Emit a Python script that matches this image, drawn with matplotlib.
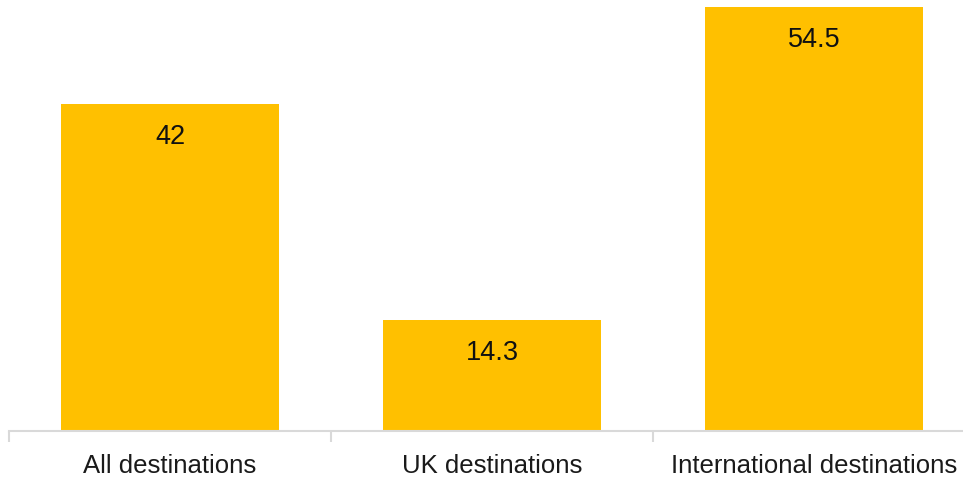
import matplotlib.pyplot as plt
import numpy as np

plt.rcParams['font.family'] = ['Liberation Sans', 'DejaVu Sans']

categories = ['All destinations', 'UK destinations', 'International destinations']
values = [42, 14.3, 54.5]

bar_color = '#FFC000'
axis_color = '#d9d9d9'

fig = plt.figure(figsize=(9.63, 4.78), dpi=100)
# axis runs from the left edge past the right side of the figure
ax = fig.add_axes([9 / 963, 47 / 478, 966 / 963, 431 / 478])

x = np.arange(len(categories))
bars = ax.bar(x, values, width=0.677, color=bar_color, zorder=2)

ax.set_xlim(-0.5, len(categories) - 0.5)
ax.set_ylim(0, 55.4)

for spine in ['top', 'right', 'left']:
    ax.spines[spine].set_visible(False)
ax.spines['bottom'].set_color(axis_color)
ax.spines['bottom'].set_linewidth(1.5)
ax.yaxis.set_visible(False)

# category boundary ticks, labels centred under each bar
ax.set_xticks(np.arange(len(categories) + 1) - 0.5)
ax.set_xticklabels([])
ax.tick_params(axis='x', which='major', length=8, width=1.5, color=axis_color)
ax.set_xticks(x, minor=True)
ax.set_xticklabels(categories, minor=True, fontsize=18.5, color='#1a1a1a')
ax.tick_params(axis='x', which='minor', length=0, pad=16.5)

for rect, v in zip(bars, values):
    ax.annotate('{:g}'.format(v),
                xy=(rect.get_x() + rect.get_width() / 2, rect.get_height()),
                xytext=(0, -33), textcoords='offset pixels',
                ha='center', va='center', fontsize=19.5, color='#111111')

fig.savefig('out.png', dpi=100)
